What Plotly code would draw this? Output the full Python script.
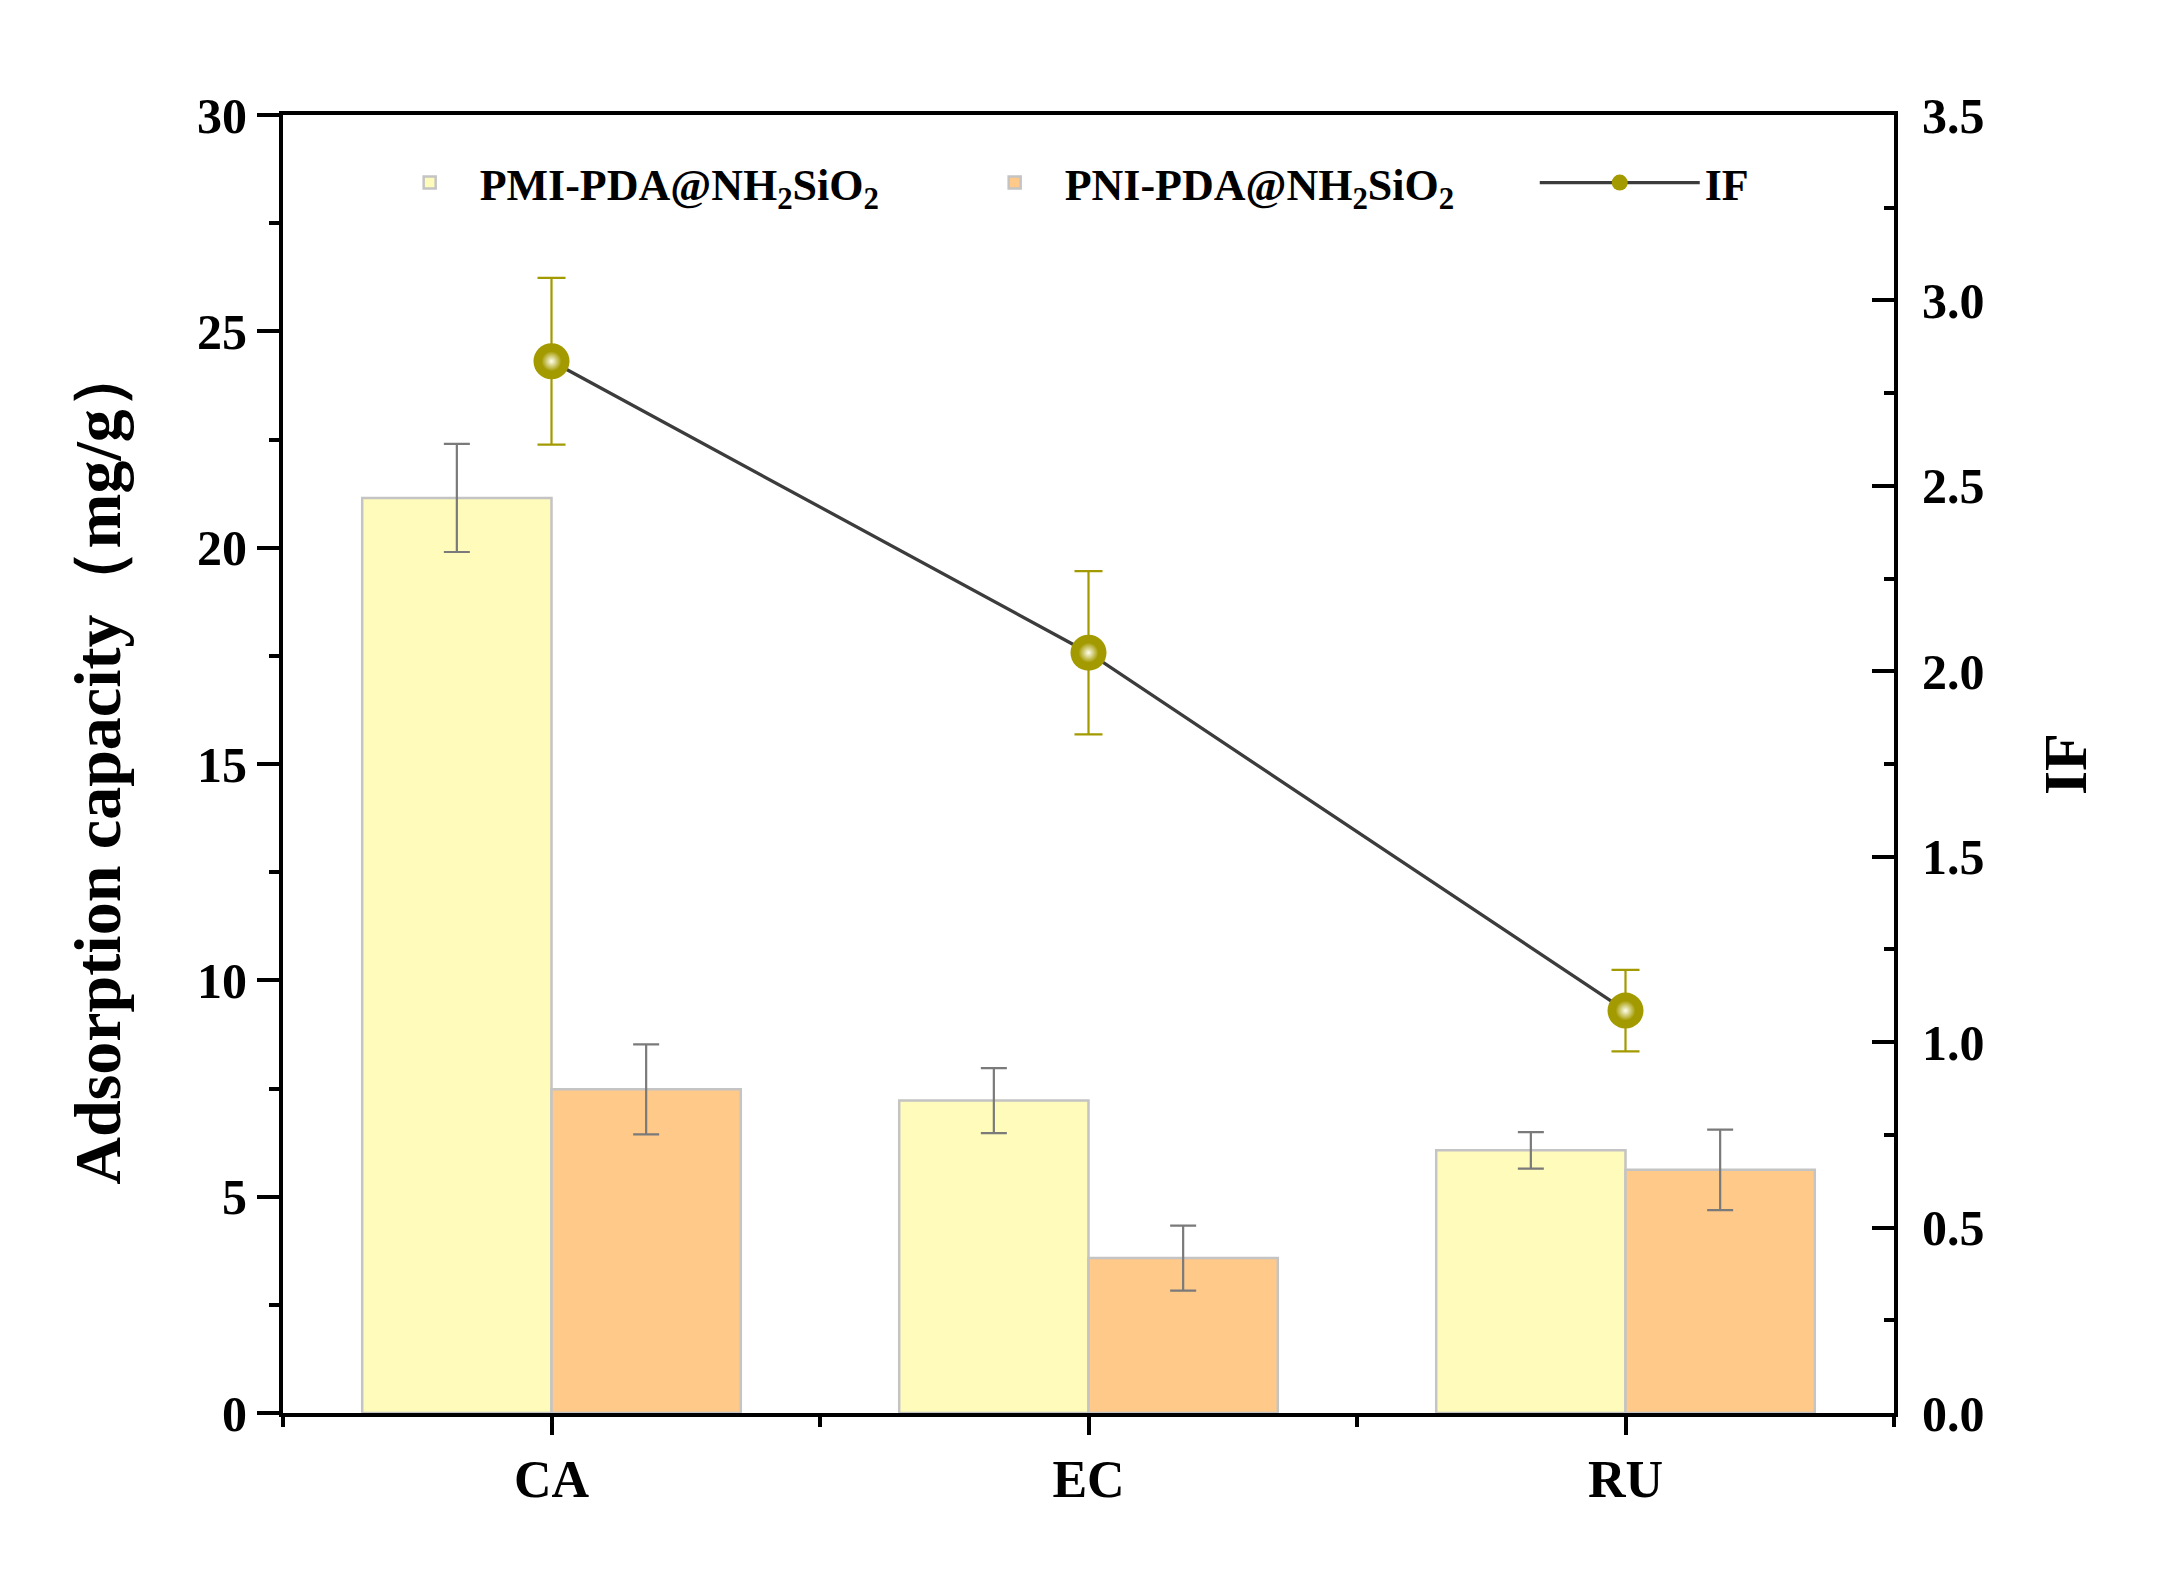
import plotly.graph_objects as go

categories = ["CA", "EC", "RU"]
x_pos = [0, 1, 2]
pmi_vals = [21.15, 7.22, 6.07]
pmi_err = [1.25, 0.75, 0.42]
pni_vals = [7.48, 3.58, 5.62]
pni_err = [1.04, 0.75, 0.93]
if_vals = [2.836, 2.05, 1.085]
if_err = [0.225, 0.22, 0.11]

FONT = "Liberation Serif"
olive = "#a39a00"

fig = go.Figure()
fig.add_trace(go.Bar(
    x=x_pos, y=pmi_vals, name="PMI-PDA@NH<sub>2</sub>SiO<sub>2</sub>",
    marker=dict(color="#fffbbb", line=dict(color="#c4c4c4", width=2.5)),
    error_y=dict(type="data", array=pmi_err, color="#7a7a7a", thickness=2.2, width=13),
    legend="legend",
))
fig.add_trace(go.Bar(
    x=x_pos, y=pni_vals, name="PNI-PDA@NH<sub>2</sub>SiO<sub>2</sub>",
    marker=dict(color="#ffc98a", line=dict(color="#c4c4c4", width=2.5)),
    error_y=dict(type="data", array=pni_err, color="#7a7a7a", thickness=2.2, width=13),
    legend="legend",
))
fig.add_trace(go.Scatter(
    x=x_pos, y=if_vals, name="IF", yaxis="y2", mode="lines+markers",
    line=dict(color="#3c3c3c", width=3.3),
    marker=dict(color=olive, size=36, line=dict(width=0)),
    error_y=dict(type="data", array=if_err, color=olive, thickness=2.2, width=14),
    legend="legend2",
))
fig.add_trace(go.Scatter(
    x=x_pos, y=if_vals, yaxis="y2", mode="markers", showlegend=False, hoverinfo="skip",
    marker=dict(color=olive, size=20, line=dict(width=0),
                gradient=dict(type="radial", color="#fffff0")),
))

tickfont = dict(family=FONT, size=50, color="black", weight=700)
legfont = dict(family=FONT, size=44, color="black", weight=700)
fig.update_layout(
    width=2168, height=1582,
    margin=dict(l=283, r=274, t=115, b=169),
    paper_bgcolor="white", plot_bgcolor="white",
    barmode="group", bargap=0.295, bargroupgap=0,
    font=dict(family=FONT, color="black"),
    showlegend=True,
    legend=dict(
        orientation="h", x=0.06, y=0.975, xanchor="left", yanchor="top",
        font=legfont, bgcolor="rgba(0,0,0,0)", entrywidth=480, itemwidth=90,
        traceorder="normal",
    ),
    legend2=dict(
        orientation="h", x=0.777, y=0.975, xanchor="left", yanchor="top",
        font=legfont, bgcolor="rgba(0,0,0,0)", itemwidth=160,
    ),
    xaxis=dict(
        range=[-0.5, 2.5], tickmode="array", tickvals=x_pos, ticktext=categories,
        showline=True, linecolor="black", linewidth=4, mirror=True,
        ticks="outside", ticklen=18, tickwidth=4, tickcolor="black",
        showgrid=False, zeroline=False, tickfont=dict(family=FONT, size=52, color="black", weight=700),
        minor=dict(tickmode="array", tickvals=[-0.5, 0.5, 1.5, 2.5], ticks="outside",
                   ticklen=10, tickwidth=4, tickcolor="black", showgrid=False),
    ),
    yaxis=dict(
        range=[0, 30], dtick=5, tick0=0,
        showline=True, linecolor="black", linewidth=4,
        ticks="outside", ticklen=22, tickwidth=4, tickcolor="black",
        showgrid=False, zeroline=False, tickfont=tickfont,
        minor=dict(dtick=2.5, ticks="outside", ticklen=10, tickwidth=4, tickcolor="black", showgrid=False),
        title=dict(text="Adsorption capacity（mg/g）", standoff=56,
                   font=dict(family=FONT, size=66, color="black", weight=700)),
    ),
    yaxis2=dict(
        range=[0, 3.5], dtick=0.5, tick0=0, tickformat=".1f",
        overlaying="y", side="right",
        showline=True, linecolor="black", linewidth=4,
        ticks="inside", ticklen=22, tickwidth=4, tickcolor="black",
        ticklabelstandoff=14,
        showgrid=False, zeroline=False, tickfont=tickfont,
        minor=dict(dtick=0.25, ticks="inside", ticklen=10, tickwidth=4, tickcolor="black", showgrid=False),
        title=dict(text="IF", standoff=60,
                   font=dict(family=FONT, size=62, color="black", weight=700)),
    ),
)

fig.write_html("out.html")
